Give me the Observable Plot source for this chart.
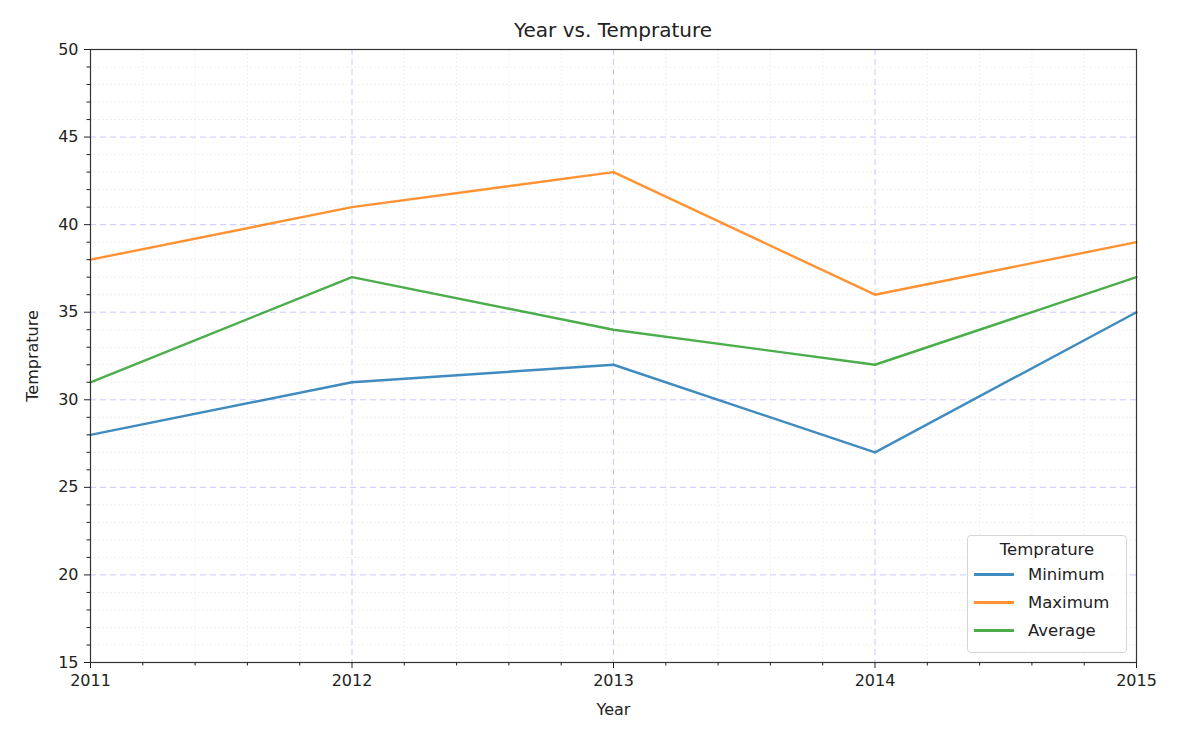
<!DOCTYPE html>
<html>
<head>
<meta charset="utf-8">
<script src="https://cdn.jsdelivr.net/npm/d3@7"></script>
<script src="https://cdn.jsdelivr.net/npm/@observablehq/plot@0.6"></script>
<style>
  body { margin: 0; background: #fff; font-family: "DejaVu Sans", sans-serif; }
  #wrap { position: relative; width: 1188px; height: 734px; }
  #title { position: absolute; left: 90px; width: 1046px; top: 18px; text-align: center; font-size: 20px; color: #222; }
  #legend { position: absolute; left: 967px; top: 535px; width: 160px; height: 118px; border: 1px solid #d5d5d5; border-radius: 4px; background: rgba(255,255,255,0.85); font-size: 16.5px; color: #222; box-sizing: border-box; }
  #legend .lt { text-align: center; margin-top: 4px; margin-bottom: 1px; }
  #legend .row { display: flex; align-items: center; height: 28px; }
  #legend .sw { width: 40px; height: 3px; margin-left: 6px; margin-right: 14px; }
</style>
</head>
<body>
<div id="wrap">
  <div id="chart"></div>
  <div id="title">Year vs. Temprature</div>
  <div id="legend"></div>
</div>
<script>
const years = [2011, 2012, 2013, 2014, 2015];
const minimum = [28, 31, 32, 27, 35];
const maximum = [38, 41, 43, 36, 39];
const average = [31, 37, 34, 32, 37];
const seriesNames = ["Minimum", "Maximum", "Average"];
const seriesColors = ["#1f77b4", "#ff7f0e", "#2ca02c"];
const yMajor = [15, 20, 25, 30, 35, 40, 45, 50];
const yMinor = d3.range(15, 50.01, 1).filter(v => v % 5 !== 0);
const xMinor = d3.range(2011, 2015.001, 0.2).map(v => +v.toFixed(1)).filter(v => !Number.isInteger(v));

const seriesVals = [minimum, maximum, average];
const data = [];
seriesNames.forEach((s, i) => years.forEach((y, j) => data.push({year: y, value: seriesVals[i][j], series: s})));

const plot = Plot.plot({
  width: 1188, height: 734,
  marginLeft: 90, marginRight: 52, marginTop: 49, marginBottom: 72,
  style: {fontFamily: "DejaVu Sans, sans-serif", fontSize: "16px", color: "#222"},
  x: {domain: [2011, 2015], label: null},
  y: {domain: [15, 50], label: null},
  color: {domain: seriesNames, range: seriesColors},
  marks: [
    Plot.gridX(xMinor, {stroke: "#f5eeee", strokeOpacity: 1, strokeDasharray: "2,2"}),
    Plot.gridY(yMinor, {stroke: "#f5eeee", strokeOpacity: 1, strokeDasharray: "2,2"}),
    Plot.gridX(years, {stroke: "#c8c8ff", strokeOpacity: 1, strokeDasharray: "6,4"}),
    Plot.gridY(yMajor, {stroke: "#c8c8ff", strokeOpacity: 1, strokeDasharray: "6,4"}),
    Plot.line(data, {x: "year", y: "value", stroke: "series", strokeWidth: 2.4, strokeOpacity: 0.85}),
    Plot.frame({stroke: "#333", strokeWidth: 1.2}),
    Plot.axisX(years, {tickFormat: d => String(d), tickSize: 6, tickPadding: 6, fontSize: 16, label: "Year", labelAnchor: "center", labelArrow: "none", labelOffset: 52}),
    Plot.axisX(xMinor, {tickFormat: null, text: null, tickSize: 3.5, label: null}),
    Plot.axisY(yMajor, {tickSize: 6, tickPadding: 6, fontSize: 16, label: "Temprature", labelAnchor: "center", labelArrow: "none", labelOffset: 64}),
    Plot.axisY(yMinor, {text: null, tickSize: 3.5, label: null})
  ]
});
document.getElementById("chart").appendChild(plot);

const lg = document.getElementById("legend");
lg.innerHTML = '<div class="lt">Temprature</div>' + seriesNames.map((s, i) =>
  `<div class="row"><div class="sw" style="background:${seriesColors[i]};opacity:0.85"></div><span>${s}</span></div>`).join("");
</script>
</body>
</html>
